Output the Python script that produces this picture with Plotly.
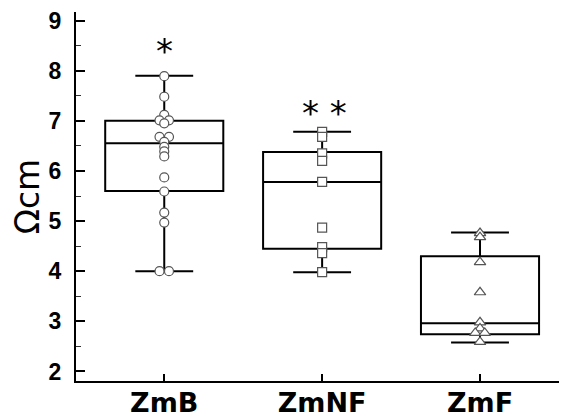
import plotly.graph_objects as go

groups = ["ZmB", "ZmNF", "ZmF"]

zmb = [7.89, 7.48, 7.12, 7.01, 7.01, 6.95, 6.68, 6.68, 6.58, 6.48, 6.39, 6.29,
       5.87, 5.59, 5.17, 4.97, 4.00, 4.00]
zmnf = [6.78, 6.68, 6.35, 6.20, 5.78, 4.87, 4.48, 4.36, 3.98]
zmf = [4.76, 4.68, 4.18, 3.58, 2.98, 2.86, 2.77, 2.77, 2.59]

box_low = [4.00, 3.98, 2.58]
box_q1 = [5.60, 4.45, 2.74]
box_med = [6.55, 5.78, 2.96]
box_q3 = [7.00, 6.38, 4.30]
box_high = [7.90, 6.78, 4.77]

sig_labels = ["*", "* *", ""]
sig_y = [8.49, 7.26, None]

series = [zmb, zmnf, zmf]
symbols = ["circle", "square", "triangle-up"]


def dodge(vals, step):
    """Spread exactly-equal values side by side."""
    counts = {}
    for v in vals:
        counts[v] = counts.get(v, 0) + 1
    seen = {}
    offs = []
    for v in vals:
        n = counts[v]
        k = seen.get(v, 0)
        seen[v] = k + 1
        offs.append((k - (n - 1) / 2) * step)
    return offs


fig = go.Figure()

for i, g in enumerate(groups):
    fig.add_trace(go.Box(
        x=[i], q1=[box_q1[i]], median=[box_med[i]], q3=[box_q3[i]],
        lowerfence=[box_low[i]], upperfence=[box_high[i]],
        width=0.748, whiskerwidth=0.49,
        line=dict(color="black", width=2), fillcolor="rgba(255,255,255,0)",
        boxpoints=False, showlegend=False, hoverinfo="skip",
    ))

for i, vals in enumerate(series):
    offs = dodge(vals, 0.06)
    fig.add_trace(go.Scatter(
        x=[i + o for o in offs], y=vals, mode="markers",
        marker=dict(symbol=symbols[i], size=9 if i < 2 else 10, color="white",
                    line=dict(color="#555555", width=1.2)),
        showlegend=False,
    ))

for i, t in enumerate(sig_labels):
    if t:
        fig.add_annotation(x=i + (0.018 if i == 1 else 0), y=sig_y[i], text=t,
                           showarrow=False, xref="x", yref="y",
                           font=dict(family="DejaVu Sans", size=34, color="black"),
                           yanchor="middle", yshift=-5)

fig.update_layout(
    width=559, height=412,
    margin=dict(l=68, r=0, t=4, b=39),
    paper_bgcolor="white", plot_bgcolor="white",
    xaxis=dict(
        range=[-0.559, 2.551], tickvals=[0, 1, 2], ticktext=groups,
        ticks="inside", ticklen=7, tickwidth=1.5, tickcolor="black",
        showline=True, linecolor="black", linewidth=2, showgrid=False,
        zeroline=False, ticklabelstandoff=-3, automargin=False,
        ticklabeloverflow="allow",
        tickfont=dict(family="DejaVu Sans", size=27, color="black", weight="bold"),
    ),
    yaxis=dict(
        range=[1.81, 9.17], tickvals=[2, 3, 4, 5, 6, 7, 8, 9],
        ticks="inside", ticklen=9, tickwidth=1.5, tickcolor="black",
        showline=True, linecolor="black", linewidth=2, showgrid=False,
        zeroline=False, ticklabelstandoff=8, automargin=False,
        ticklabeloverflow="allow",
        minor=dict(dtick=0.5, tick0=2, ticks="inside", ticklen=5, tickwidth=1, tickcolor="#333"),
        tickfont=dict(family="Liberation Sans", size=23, color="black", weight="bold"),
        title=dict(text="Ωcm", font=dict(family="DejaVu Sans", size=33, color="black"), standoff=8),
    ),
)

fig.write_html("out.html")
